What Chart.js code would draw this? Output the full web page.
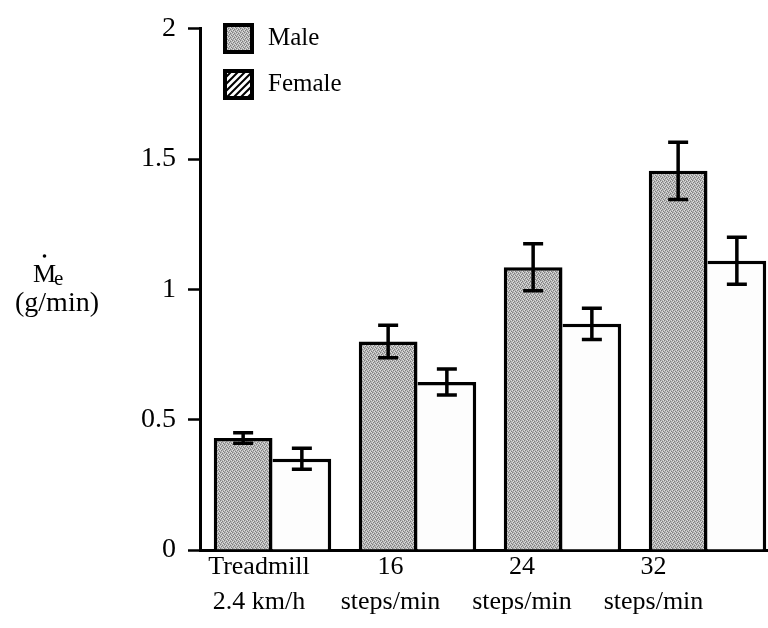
<!DOCTYPE html>
<html>
<head>
<meta charset="utf-8">
<script src="https://cdn.jsdelivr.net/npm/chart.js"></script>
<style>
  html, body { margin: 0; padding: 0; background: #fff; overflow: hidden; }
  #chart { display: block; }
</style>
</head>
<body>
<canvas id="chart" width="780" height="628"></canvas>
<script>
// data
const categories = [["Treadmill", "2.4 km/h"], ["16", "steps/min"], ["24", "steps/min"], ["32", "steps/min"]];
const seriesNames = ["Male", "Female"];
const maleValues = [0.43, 0.80, 1.085, 1.455];
const maleErrors = [0.02, 0.062, 0.09, 0.11];
const femaleValues = [0.35, 0.645, 0.868, 1.11];
const femaleErrors = [0.04, 0.05, 0.06, 0.09];
const yTicks = [0, 0.5, 1, 1.5, 2];

const FONT = "'Liberation Serif', 'Times New Roman', serif";

// gray stipple used for the male bars
function makeStipple() {
  const c = document.createElement("canvas");
  c.width = 4;
  c.height = 4;
  const g = c.getContext("2d");
  g.fillStyle = "#b2b2b2";
  g.fillRect(0, 0, 4, 4);
  g.fillStyle = "#7e7e7e";
  [[0, 0], [2, 1], [1, 2], [3, 3]].forEach(([x, y]) => g.fillRect(x, y, 1, 1));
  g.fillStyle = "#dedede";
  [[2, 3], [0, 2], [3, 0], [1, 1]].forEach(([x, y]) => g.fillRect(x, y, 1, 1));
  return g.createPattern(c, "repeat");
}

const stipple = makeStipple();

const errorBars = {
  id: "errorBars",
  afterDatasetsDraw(chart) {
    const ctx = chart.ctx;
    const y = chart.scales.y;
    const errs = [maleErrors, femaleErrors];
    chart.data.datasets.forEach((ds, di) => {
      chart.getDatasetMeta(di).data.forEach((bar, i) => {
        const v = ds.data[i];
        const top = y.getPixelForValue(v + errs[di][i]);
        const bot = y.getPixelForValue(v - errs[di][i]);
        ctx.save();
        ctx.strokeStyle = "#000";
        ctx.lineWidth = 3.5;
        ctx.beginPath();
        ctx.moveTo(bar.x, top);
        ctx.lineTo(bar.x, bot);
        ctx.moveTo(bar.x - 10, top);
        ctx.lineTo(bar.x + 10, top);
        ctx.moveTo(bar.x - 10, bot);
        ctx.lineTo(bar.x + 10, bot);
        ctx.stroke();
        ctx.restore();
      });
    });
  },
};

const boxLegend = {
  id: "boxLegend",
  afterDraw(chart) {
    const ctx = chart.ctx;
    ctx.save();
    seriesNames.forEach((name, i) => {
      const x = 225, yy = 25 + i * 46, s = 27;
      ctx.fillStyle = i === 0 ? stipple : "#fff";
      ctx.fillRect(x, yy, s, s);
      if (i === 1) {
        // hatched swatch
        ctx.save();
        ctx.beginPath();
        ctx.rect(x, yy, s, s);
        ctx.clip();
        ctx.strokeStyle = "#000";
        ctx.lineWidth = 2;
        for (let k = -s; k < s * 2; k += 7) {
          ctx.beginPath();
          ctx.moveTo(x + k, yy + s);
          ctx.lineTo(x + k + s, yy);
          ctx.stroke();
        }
        ctx.restore();
      }
      ctx.strokeStyle = "#000";
      ctx.lineWidth = 4;
      ctx.strokeRect(x, yy, s, s);
      ctx.fillStyle = "#000";
      ctx.font = "25px " + FONT;
      ctx.textBaseline = "middle";
      ctx.textAlign = "left";
      ctx.fillText(name, 268, yy + s / 2);
    });
    ctx.restore();
  },
};

// y title: M with overdot, subscript e, then units
const yTitle = {
  id: "yTitle",
  afterDraw(chart) {
    const ctx = chart.ctx;
    ctx.save();
    ctx.fillStyle = "#000";
    ctx.textBaseline = "alphabetic";
    ctx.textAlign = "left";
    ctx.font = "26px " + FONT;
    ctx.fillText("M", 33, 282);
    ctx.beginPath();
    ctx.arc(44.5, 256, 1.8, 0, Math.PI * 2);
    ctx.fill();
    ctx.font = "21px " + FONT;
    ctx.fillText("e", 54, 285);
    ctx.font = "28px " + FONT;
    ctx.textAlign = "center";
    ctx.fillText("(g/min)", 57, 311);
    ctx.restore();
  },
};

new Chart(document.getElementById("chart"), {
  type: "bar",
  data: {
    labels: categories.map((c) => c.join(" ")),
    datasets: [
      {
        label: seriesNames[0],
        data: maleValues,
        backgroundColor: stipple,
        borderColor: "#000",
        borderWidth: 3.5,
        borderSkipped: "bottom",
        categoryPercentage: 0.81,
        barPercentage: 1.0,
      },
      {
        label: seriesNames[1],
        data: femaleValues,
        backgroundColor: "#fdfdfd",
        borderColor: "#000",
        borderWidth: { top: 3.5, right: 3.5, left: 0, bottom: 0 },
        borderSkipped: false,
        categoryPercentage: 0.81,
        barPercentage: 1.0,
      },
    ],
  },
  options: {
    responsive: false,
    animation: false,
    layout: { padding: { top: 22, left: 0, right: 0, bottom: 0 } },
    plugins: {
      legend: { display: false },
      tooltip: { enabled: false },
    },
    scales: {
      x: { type: "category", display: false },
      // separate axis for the labels, they sit a bit left of the bar groups
      x2: {
        type: "linear",
        position: "bottom",
        offset: false,
        bounds: "data",
        min: -0.4487,
        max: 3.962,
        afterBuildTicks: (s) => {
          s.ticks = categories.map((_, i) => ({ value: i }));
          s.min = -0.4487;
          s.max = 3.962;
        },
        afterFit: (s) => { s.height = 78; },
        grid: { display: false, drawTicks: false, offset: false },
        border: { display: true, color: "#000", width: 3 },
        ticks: {
          callback: (v, i) => categories[i],
          color: "#000",
          font: { family: FONT, size: 26, lineHeight: 1.35 },
          padding: 0,
          maxRotation: 0,
          autoSkip: false,
        },
      },
      y: {
        min: 0,
        max: 2,
        afterBuildTicks: (s) => { s.ticks = yTicks.map((v) => ({ value: v })); },
        afterFit: (s) => { s.width = 200; },
        grid: { drawOnChartArea: false, tickLength: 12, tickWidth: 2.5, tickColor: "#000" },
        border: { color: "#000", width: 3 },
        ticks: {
          color: "#000",
          padding: 12,
          font: { family: FONT, size: 28 },
          callback: (v) => String(v),
        },
      },
    },
  },
  plugins: [errorBars, boxLegend, yTitle],
});
</script>
</body>
</html>
